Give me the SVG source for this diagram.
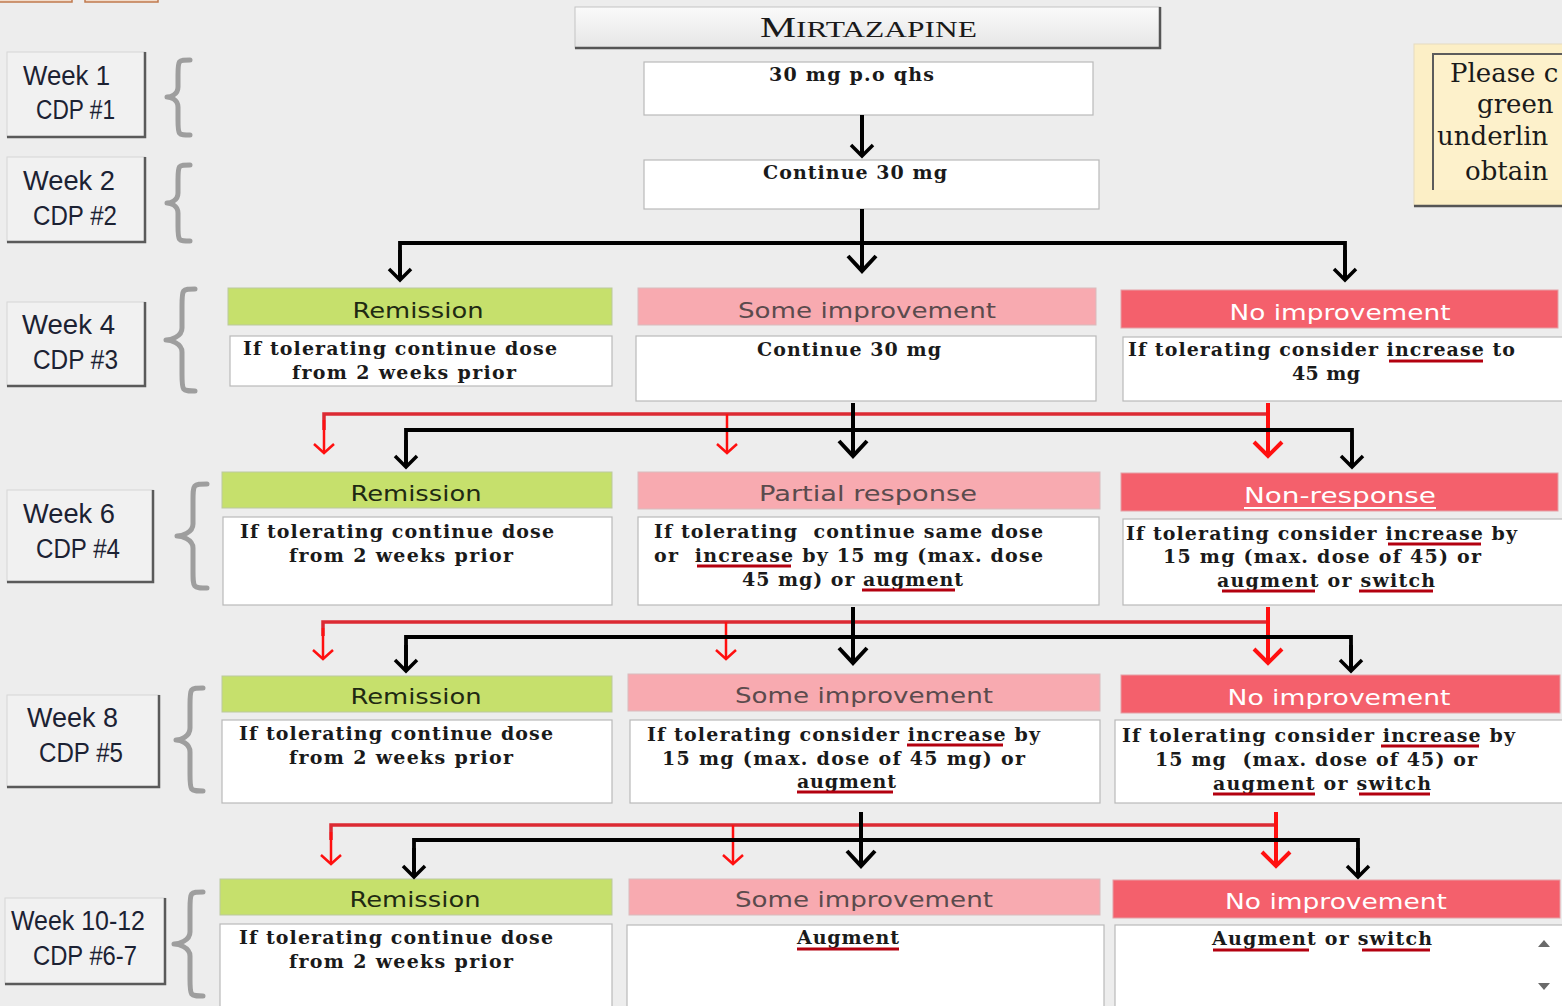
<svg xmlns="http://www.w3.org/2000/svg" width="1562" height="1006" viewBox="0 0 1562 1006">
  <defs>
    <linearGradient id="titleFill" x1="0" y1="0" x2="0" y2="1">
      <stop offset="0" stop-color="#fafafa"/>
      <stop offset="1" stop-color="#e6e6e6"/>
    </linearGradient>
    <clipPath id="noteClip"><rect x="1434" y="55" width="128" height="134"/></clipPath>
    <marker id="ahBlack" viewBox="-14 -12 16 24" markerWidth="16" markerHeight="24" refX="0" refY="0" orient="auto" markerUnits="userSpaceOnUse" overflow="visible">
      <path d="M-11,-11 L0,0 L-11,11" fill="none" stroke="#000" stroke-width="3.5"/>
    </marker>
    <marker id="ahBlackBig" viewBox="-18 -16 20 32" markerWidth="20" markerHeight="32" refX="0" refY="0" orient="auto" markerUnits="userSpaceOnUse" overflow="visible">
      <path d="M-15,-14 L0,0 L-15,14" fill="none" stroke="#000" stroke-width="4"/>
    </marker>
    <marker id="ahRed" viewBox="-12 -10 14 20" markerWidth="14" markerHeight="20" refX="0" refY="0" orient="auto" markerUnits="userSpaceOnUse" overflow="visible">
      <path d="M-9,-10 L0,0 L-9,10" fill="none" stroke="#ff1010" stroke-width="2.5"/>
    </marker>
    <marker id="ahRedBig" viewBox="-18 -16 20 32" markerWidth="20" markerHeight="32" refX="0" refY="0" orient="auto" markerUnits="userSpaceOnUse" overflow="visible">
      <path d="M-14,-14 L0,0 L-14,14" fill="none" stroke="#ff1010" stroke-width="4"/>
    </marker>
  </defs>
  <style>
    .bg { fill: #ededed; }
    .wk rect.face { fill: #f1f1f1; stroke: #d6d6d6; stroke-width: 1; }
    .wk path.shade { fill: none; stroke: #5a5a5a; stroke-width: 2.5; }
    .wk text { font-family: "Liberation Sans", "DejaVu Sans", sans-serif; font-size: 27px; fill: #1c2233; }
    .brace { fill: none; stroke: #9e9e9e; stroke-width: 5; stroke-linecap: round; stroke-linejoin: round; }
    .box { fill: #ffffff; stroke: #b9b9b9; stroke-width: 1.2; }
    .body { font-family: "DejaVu Serif", "Liberation Serif", serif; font-weight: bold; font-size: 19px; fill: #1a1a1a; text-anchor: middle; }
    .hd { font-family: "DejaVu Sans", "Liberation Sans", sans-serif; font-size: 22px; text-anchor: middle; }
    .rem rect { fill: #c6e06c; stroke: #bcc9a0; stroke-width: 1; }
    .rem text { fill: #1f2a12; }
    .some rect { fill: #f8aab0; stroke: #d9bcbe; stroke-width: 1; }
    .some text { fill: #5b4b4d; }
    .none rect { fill: #f4606c; stroke: #e5a0a6; stroke-width: 1; }
    .none text { fill: #ffffff; }
    .ul { stroke: #b3000f; stroke-width: 3; }
    .blk { fill: none; stroke: #000; stroke-width: 3.8; }
    .blkv { fill: none; stroke: #000; stroke-width: 4; }
    .red { fill: none; stroke: #dc2a33; stroke-width: 3.5; }
    .redv { fill: none; stroke: #ff1010; stroke-width: 2.5; }
    .redvb { fill: none; stroke: #ff1010; stroke-width: 4; }
  </style>

  <rect class="bg" x="0" y="0" width="1562" height="1006"/>

  <!-- tab edges at the top-left corner -->
  <g id="tabs">
    <rect x="-2" y="-20" width="74" height="22" fill="#f2dccb" stroke="#c07a4e" stroke-width="1.5"/>
    <rect x="85" y="-20" width="73" height="22" fill="#f2dccb" stroke="#c07a4e" stroke-width="1.5"/>
  </g>

  <!-- title bar -->
  <g id="title">
    <rect x="575" y="7" width="585" height="41" fill="url(#titleFill)" stroke="#c4c4c4" stroke-width="1"/>
    <path d="M575,48 H1160 V7" fill="none" stroke="#555" stroke-width="2.5"/>
    <text x="868.5" y="37" text-anchor="middle" textLength="217" lengthAdjust="spacingAndGlyphs" font-family="Liberation Serif, serif" fill="#1a1a1a"><tspan font-size="29">M</tspan><tspan font-size="22.5">IRTAZAPINE</tspan></text>
  </g>

  <!-- note panel, right edge -->
  <g id="note">
    <rect x="1414" y="44" width="160" height="162" fill="#fcefc6" stroke="#e6dcc0" stroke-width="1"/>
    <path d="M1414,206 H1562" stroke="#555" stroke-width="2.5"/>
    <rect x="1432" y="53" width="140" height="137" fill="#fdf1cb"/>
    <path d="M1433,190 V54 H1562" fill="none" stroke="#5c5c5c" stroke-width="2"/>
    <g clip-path="url(#noteClip)" font-family="DejaVu Serif, Liberation Serif, serif" font-size="26" fill="#1a1a1a">
      <text x="1450" y="82">Please c</text>
      <text x="1477" y="113">green</text>
      <text x="1437" y="145">underlin</text>
      <text x="1465" y="180">obtain</text>
    </g>
  </g>

  <!-- week labels -->
  <g id="week1" class="wk">
    <rect class="face" x="7" y="52" width="138" height="85"/>
    <path class="shade" d="M7,137 H145 V52"/>
    <text x="23" y="85" textLength="87" lengthAdjust="spacingAndGlyphs">Week 1</text>
    <text x="36" y="119" textLength="79" lengthAdjust="spacingAndGlyphs">CDP #1</text>
  </g>
  <g id="week2" class="wk">
    <rect class="face" x="7" y="157" width="138" height="85"/>
    <path class="shade" d="M7,242 H145 V157"/>
    <text x="23" y="190" textLength="92" lengthAdjust="spacingAndGlyphs">Week 2</text>
    <text x="33" y="225" textLength="84" lengthAdjust="spacingAndGlyphs">CDP #2</text>
  </g>
  <g id="week4" class="wk">
    <rect class="face" x="7" y="302" width="138" height="84"/>
    <path class="shade" d="M7,386 H145 V302"/>
    <text x="22" y="334" textLength="93" lengthAdjust="spacingAndGlyphs">Week 4</text>
    <text x="33" y="369" textLength="85" lengthAdjust="spacingAndGlyphs">CDP #3</text>
  </g>
  <g id="week6" class="wk">
    <rect class="face" x="7" y="490" width="146" height="92"/>
    <path class="shade" d="M7,582 H153 V490"/>
    <text x="23" y="523" textLength="92" lengthAdjust="spacingAndGlyphs">Week 6</text>
    <text x="36" y="558" textLength="84" lengthAdjust="spacingAndGlyphs">CDP #4</text>
  </g>
  <g id="week8" class="wk">
    <rect class="face" x="7" y="695" width="152" height="92"/>
    <path class="shade" d="M7,787 H159 V695"/>
    <text x="27" y="727" textLength="91" lengthAdjust="spacingAndGlyphs">Week 8</text>
    <text x="39" y="762" textLength="84" lengthAdjust="spacingAndGlyphs">CDP #5</text>
  </g>
  <g id="week10" class="wk">
    <rect class="face" x="5" y="898" width="160" height="86"/>
    <path class="shade" d="M5,984 H165 V898"/>
    <text x="11" y="930" textLength="134" lengthAdjust="spacingAndGlyphs">Week 10-12</text>
    <text x="33" y="965" textLength="104" lengthAdjust="spacingAndGlyphs">CDP #6-7</text>
  </g>

  <!-- braces -->
  <g id="braces">
    <path class="brace" d="M190,60 C178,60 178,60 178,75 L178,87 C178,95 170,97 167,97 C170,97 178,99 178,107 L178,120 C178,135 178,135 190,135"/>
    <path class="brace" d="M190,165 C178,165 178,165 178,180 L178,193 C178,201 170,203 167,203 C170,203 178,205 178,213 L178,226 C178,241 178,241 190,241"/>
    <path class="brace" d="M195,289 C182,289 182,289 182,306 L182,328 C182,337 170,340 166,340 C170,340 182,343 182,352 L182,374 C182,391 182,391 195,391"/>
    <path class="brace" d="M207,484 C193,484 193,484 193,501 L193,524 C193,533 181,536 177,536 C181,536 193,539 193,548 L193,571 C193,588 193,588 207,588"/>
    <path class="brace" d="M203,688 C190,688 190,688 190,705 L190,728 C190,737 180,740 176,740 C180,740 190,743 190,752 L190,774 C190,791 190,791 203,791"/>
    <path class="brace" d="M203,892 C190,892 190,892 190,909 L190,932 C190,941 178,944 174,944 C178,944 190,947 190,956 L190,979 C190,996 190,996 203,996"/>
  </g>

  <!-- first two steps -->
  <g id="start">
    <rect class="box" x="644" y="62" width="449" height="53"/>
    <text class="body" x="851.5" y="81" textLength="165">30 mg p.o qhs</text>
  </g>
  <g id="continue">
    <rect class="box" x="644" y="160" width="455" height="49"/>
    <text class="body" x="855" y="179" textLength="184">Continue 30 mg</text>
  </g>

  <!-- week 4 outcomes -->
  <g id="w4-remission">
    <g class="rem"><rect x="228" y="288" width="384" height="37"/><text class="hd" x="418" y="318" textLength="131" lengthAdjust="spacingAndGlyphs">Remission</text></g>
    <rect class="box" x="230" y="336" width="382" height="50"/>
    <text class="body" x="400" y="355" textLength="314">If tolerating continue dose</text>
    <text class="body" x="404" y="379" textLength="224">from 2 weeks prior</text>
  </g>
  <g id="w4-some">
    <g class="some"><rect x="638" y="288" width="458" height="37"/><text class="hd" x="867" y="318" textLength="258" lengthAdjust="spacingAndGlyphs">Some improvement</text></g>
    <rect class="box" x="636" y="336" width="460" height="65"/>
    <text class="body" x="849" y="356" textLength="184">Continue 30 mg</text>
  </g>
  <g id="w4-none">
    <g class="none"><rect x="1121" y="290" width="437" height="38"/><text class="hd" x="1340" y="320" textLength="221" lengthAdjust="spacingAndGlyphs">No improvement</text></g>
    <rect class="box" x="1123" y="337" width="450" height="64"/>
    <text class="body" x="1321.5" y="356" textLength="387">If tolerating consider increase to</text>
    <text class="body" x="1326" y="380" textLength="68">45 mg</text>
    <line class="ul" x1="1389" y1="361" x2="1483" y2="361"/>
  </g>

  <!-- week 6 outcomes -->
  <g id="w6-remission">
    <g class="rem"><rect x="222" y="472" width="390" height="36"/><text class="hd" x="416" y="501" textLength="131" lengthAdjust="spacingAndGlyphs">Remission</text></g>
    <rect class="box" x="223" y="517" width="389" height="88"/>
    <text class="body" x="397" y="538" textLength="314">If tolerating continue dose</text>
    <text class="body" x="401" y="562" textLength="224">from 2 weeks prior</text>
  </g>
  <g id="w6-partial">
    <g class="some"><rect x="638" y="472" width="462" height="37"/><text class="hd" x="868" y="501" textLength="218" lengthAdjust="spacingAndGlyphs">Partial response</text></g>
    <rect class="box" x="638" y="517" width="461" height="88"/>
    <text class="body" x="848.5" y="538" textLength="389" xml:space="preserve">If tolerating  continue same dose</text>
    <text class="body" x="848.5" y="562" textLength="389" xml:space="preserve">or  increase by 15 mg (max. dose</text>
    <text class="body" x="852.5" y="586" textLength="221">45 mg) or augment</text>
    <line class="ul" x1="697" y1="566" x2="791" y2="566"/>
    <line class="ul" x1="862" y1="590" x2="955" y2="590"/>
  </g>
  <g id="w6-none">
    <g class="none"><rect x="1121" y="473" width="437" height="38"/><text class="hd" x="1340" y="503" textLength="192" lengthAdjust="spacingAndGlyphs">Non-response</text>
      <line x1="1244" y1="508" x2="1436" y2="508" stroke="#ffffff" stroke-width="2"/></g>
    <rect class="box" x="1123" y="519" width="450" height="86"/>
    <text class="body" x="1321.5" y="540" textLength="391">If tolerating consider increase by</text>
    <text class="body" x="1322" y="563" textLength="318">15 mg (max. dose of 45) or</text>
    <text class="body" x="1326" y="587" textLength="218">augment or switch</text>
    <line class="ul" x1="1388" y1="544" x2="1481" y2="544"/>
    <line class="ul" x1="1222" y1="591" x2="1315" y2="591"/>
    <line class="ul" x1="1359" y1="591" x2="1433" y2="591"/>
  </g>

  <!-- week 8 outcomes -->
  <g id="w8-remission">
    <g class="rem"><rect x="222" y="676" width="390" height="36"/><text class="hd" x="416" y="704" textLength="131" lengthAdjust="spacingAndGlyphs">Remission</text></g>
    <rect class="box" x="222" y="720" width="390" height="83"/>
    <text class="body" x="396" y="740" textLength="314">If tolerating continue dose</text>
    <text class="body" x="401" y="764" textLength="224">from 2 weeks prior</text>
  </g>
  <g id="w8-some">
    <g class="some"><rect x="628" y="674" width="472" height="37"/><text class="hd" x="864" y="703" textLength="258" lengthAdjust="spacingAndGlyphs">Some improvement</text></g>
    <rect class="box" x="630" y="720" width="470" height="83"/>
    <text class="body" x="843.5" y="741" textLength="393">If tolerating consider increase by</text>
    <text class="body" x="843.5" y="765" textLength="363">15 mg (max. dose of 45 mg) or</text>
    <text class="body" x="846.5" y="788" textLength="99">augment</text>
    <line class="ul" x1="907" y1="745" x2="1003" y2="745"/>
    <line class="ul" x1="797" y1="792" x2="893" y2="792"/>
  </g>
  <g id="w8-none">
    <g class="none"><rect x="1121" y="675" width="439" height="38"/><text class="hd" x="1339" y="705" textLength="223" lengthAdjust="spacingAndGlyphs">No improvement</text></g>
    <rect class="box" x="1115" y="720" width="458" height="83"/>
    <text class="body" x="1318.5" y="742" textLength="393">If tolerating consider increase by</text>
    <text class="body" x="1316" y="766" textLength="322" xml:space="preserve">15 mg  (max. dose of 45) or</text>
    <text class="body" x="1322" y="790" textLength="218">augment or switch</text>
    <line class="ul" x1="1381" y1="746" x2="1479" y2="746"/>
    <line class="ul" x1="1213" y1="794" x2="1315" y2="794"/>
    <line class="ul" x1="1359" y1="794" x2="1430" y2="794"/>
  </g>

  <!-- week 10-12 outcomes -->
  <g id="w10-remission">
    <g class="rem"><rect x="220" y="879" width="392" height="36"/><text class="hd" x="415" y="907" textLength="131" lengthAdjust="spacingAndGlyphs">Remission</text></g>
    <rect class="box" x="220" y="924" width="392" height="90"/>
    <text class="body" x="396" y="944" textLength="314">If tolerating continue dose</text>
    <text class="body" x="401" y="968" textLength="224">from 2 weeks prior</text>
  </g>
  <g id="w10-some">
    <g class="some"><rect x="629" y="879" width="471" height="36"/><text class="hd" x="864" y="907" textLength="258" lengthAdjust="spacingAndGlyphs">Some improvement</text></g>
    <rect class="box" x="627" y="925" width="477" height="90"/>
    <text class="body" x="848" y="944" textLength="102">Augment</text>
    <line class="ul" x1="797" y1="949" x2="899" y2="949"/>
  </g>
  <g id="w10-none">
    <g class="none"><rect x="1113" y="880" width="447" height="38"/><text class="hd" x="1336" y="909" textLength="222" lengthAdjust="spacingAndGlyphs">No improvement</text></g>
    <rect class="box" x="1115" y="925" width="458" height="90"/>
    <text class="body" x="1322" y="945" textLength="220">Augment or switch</text>
    <line class="ul" x1="1213" y1="950" x2="1309" y2="950"/>
    <line class="ul" x1="1362" y1="950" x2="1430" y2="950"/>
    <!-- scroll arrows -->
    <path d="M1538,947 L1544,940 L1550,947 Z" fill="#6a6a6a"/>
    <path d="M1538,983 L1544,990 L1550,983 Z" fill="#6a6a6a"/>
  </g>

  <!-- connectors -->
  <g id="connectors">
    <!-- week 1 to week 2 -->
    <line class="blkv" x1="862" y1="115" x2="862" y2="156" marker-end="url(#ahBlack)"/>
    <!-- week 2 to week 4 -->
    <line class="blkv" x1="862" y1="209" x2="862" y2="271" marker-end="url(#ahBlackBig)"/>
    <polyline class="blk" points="400,280 400,243 1345,243 1345,280"/>
    <line class="blk" x1="400" y1="250" x2="400" y2="280" marker-end="url(#ahBlack)"/>
    <line class="blk" x1="1345" y1="250" x2="1345" y2="280" marker-end="url(#ahBlack)"/>

    <!-- week 4 to week 6 -->
    <polyline class="red" points="324,430 324,414 1268,414"/>
    <line class="redv" x1="324" y1="420" x2="324" y2="453" marker-end="url(#ahRed)"/>
    <line class="redv" x1="727" y1="414" x2="727" y2="453" marker-end="url(#ahRed)"/>
    <line class="redvb" x1="1268" y1="403" x2="1268" y2="456" marker-end="url(#ahRedBig)"/>
    <polyline class="blk" points="406,467 406,430 1352,430 1352,467"/>
    <line class="blk" x1="406" y1="440" x2="406" y2="467" marker-end="url(#ahBlack)"/>
    <line class="blk" x1="1352" y1="440" x2="1352" y2="467" marker-end="url(#ahBlack)"/>
    <line class="blkv" x1="853" y1="403" x2="853" y2="456" marker-end="url(#ahBlackBig)"/>

    <!-- week 6 to week 8 -->
    <polyline class="red" points="323,636 323,622 1268,622"/>
    <line class="redv" x1="323" y1="628" x2="323" y2="659" marker-end="url(#ahRed)"/>
    <line class="redv" x1="726" y1="622" x2="726" y2="659" marker-end="url(#ahRed)"/>
    <line class="redvb" x1="1268" y1="607" x2="1268" y2="663" marker-end="url(#ahRedBig)"/>
    <polyline class="blk" points="406,671 406,637 1351,637 1351,671"/>
    <line class="blk" x1="406" y1="645" x2="406" y2="671" marker-end="url(#ahBlack)"/>
    <line class="blk" x1="1351" y1="645" x2="1351" y2="671" marker-end="url(#ahBlack)"/>
    <line class="blkv" x1="853" y1="607" x2="853" y2="663" marker-end="url(#ahBlackBig)"/>

    <!-- week 8 to week 10-12 -->
    <polyline class="red" points="331,840 331,825 1276,825"/>
    <line class="redv" x1="331" y1="832" x2="331" y2="864" marker-end="url(#ahRed)"/>
    <line class="redv" x1="733" y1="825" x2="733" y2="864" marker-end="url(#ahRed)"/>
    <line class="redvb" x1="1276" y1="812" x2="1276" y2="866" marker-end="url(#ahRedBig)"/>
    <polyline class="blk" points="414,877 414,840 1358,840 1358,877"/>
    <line class="blk" x1="414" y1="848" x2="414" y2="877" marker-end="url(#ahBlack)"/>
    <line class="blk" x1="1358" y1="848" x2="1358" y2="877" marker-end="url(#ahBlack)"/>
    <line class="blkv" x1="861" y1="812" x2="861" y2="866" marker-end="url(#ahBlackBig)"/>
  </g>
</svg>
